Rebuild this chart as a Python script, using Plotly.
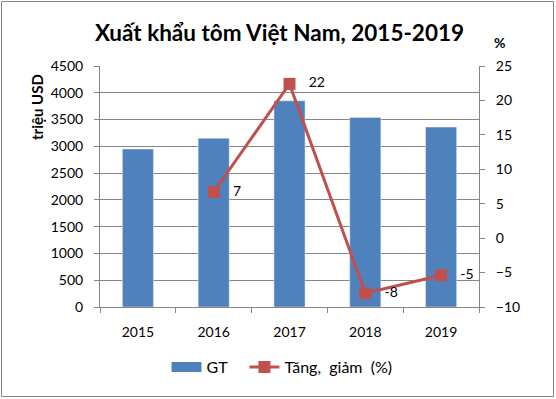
import plotly.graph_objects as go

years = ["2015", "2016", "2017", "2018", "2019"]
gt_values = [2950, 3150, 3850, 3540, 3360]
growth_years = ["2016", "2017", "2018", "2019"]
growth_values = [6.7, 22.4, -8.0, -5.4]

FONT = "Lato"
W, H = 556, 399
L, R, T, B = 100, 77, 66, 92
BLUE = "#4F81BD"
RED = "#C0504D"

fig = go.Figure()
fig.add_trace(go.Bar(x=years, y=gt_values, name="GT", marker_color=BLUE,
                     yaxis="y", showlegend=False))
# legend swatch for the bars (wide rectangle like the original)
fig.add_trace(go.Scatter(x=[None], y=[None], name="GT   ", mode="lines",
                         line=dict(color=BLUE, width=10), yaxis="y"))
fig.add_trace(go.Scatter(x=growth_years, y=growth_values, name="Tăng,  giảm  (%)",
                         yaxis="y2", mode="lines+markers+text",
                         line=dict(color=RED, width=3),
                         marker=dict(symbol="square", size=12, color=RED),
                         texttemplate="   %{y:.0f}", textposition="middle right",
                         textfont=dict(size=14, color="black", family=FONT),
                         cliponaxis=False))

pw = W - L - R
ph = H - T - B
def px(x):
    return (x - L) / pw
def py(y):
    return (H - B - y) / ph

fig.update_layout(
    width=W, height=H,
    margin=dict(l=L, r=R, t=T, b=B),
    paper_bgcolor="white", plot_bgcolor="white",
    font=dict(family=FONT, size=14, color="black"),
    bargap=0.59,
    showlegend=True,
    legend=dict(orientation="h", x=px(282), xanchor="center", y=py(367), yanchor="middle",
                font=dict(size=16, family=FONT), traceorder="normal"),
    xaxis=dict(type="category", showgrid=False, ticks="outside", tickson="boundaries",
               ticklen=5, tickcolor="#868686", showline=True, linecolor="#868686",
               tickfont=dict(size=14), ticklabelstandoff=12),
    yaxis=dict(range=[0, 4500], dtick=500, showgrid=True, gridcolor="#868686",
               gridwidth=1, showline=True, linecolor="#868686", ticks="outside",
               ticklen=5, tickcolor="#868686", tickfont=dict(size=14), zeroline=False,
               ticklabelstandoff=8),
    yaxis2=dict(range=[-10, 25], dtick=5, overlaying="y", side="right",
                showgrid=False, showline=True, linecolor="#868686", ticks="outside",
                ticklen=5, tickcolor="#868686", tickfont=dict(size=14), zeroline=False,
                ticklabelstandoff=8),
    annotations=[
        dict(text="<b>Xuất khẩu tôm Việt Nam, 2015-2019</b>", x=px(279), y=py(32),
             xref="paper", yref="paper", showarrow=False, xanchor="center",
             yanchor="middle", font=dict(size=22.5, family=FONT)),
        dict(text="<b>%</b>", x=px(499), y=py(43), xref="paper", yref="paper",
             showarrow=False, xanchor="center", yanchor="middle",
             font=dict(size=14, family=FONT)),
        dict(text="<b>triệu USD</b>", x=px(37), y=py(107), xref="paper", yref="paper",
             showarrow=False, xanchor="center", yanchor="middle", textangle=-90,
             font=dict(size=15, family=FONT)),
    ],
    shapes=[dict(type="rect", xref="paper", yref="paper",
                 x0=px(1.5), x1=px(553.5), y0=py(396.5), y1=py(1.5),
                 line=dict(color="#868686", width=1), layer="below")],
)

fig.write_html("out.html", config={"displayModeBar": False},
               post_script="document.body.style.margin='0';")
